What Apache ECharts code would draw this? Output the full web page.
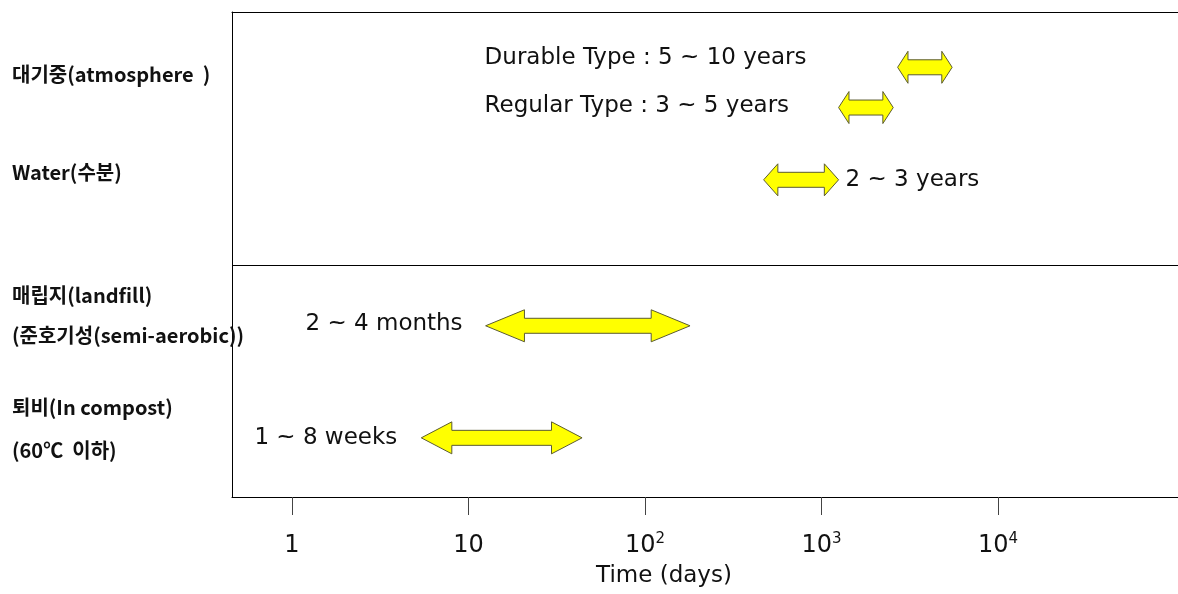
<!DOCTYPE html>
<html>
<head>
<meta charset="utf-8">
<script src="https://cdn.jsdelivr.net/npm/echarts@6/dist/echarts.min.js"></script>
<style>
  html, body { margin: 0; padding: 0; background: #fff; }
  #chart { width: 1178px; height: 594px; }
</style>
</head>
<body>
<div id="chart"></div>
<script>
// degradation time ranges, in days
const stages = ['Durable Type', 'Regular Type', 'Water', 'Landfill', 'Compost'];
const rangeText = ['Durable Type : 5 ~ 10 years', 'Regular Type : 3 ~ 5 years', '2 ~ 3 years', '2 ~ 4 months', '1 ~ 8 weeks'];
const fromDays = [2700, 1250, 470, 12.5, 5.4];
const toDays = [5500, 2550, 1250, 180, 44];

const tickExp = [0, 1, 2, 3, 4];
const tickText = ['1', '10', '10{s|2}', '10{s|3}', '10{s|4}'];

const sideText = ['대기중(atmosphere  )', 'Water(수분)', '매립지(landfill)', '(준호기성(semi-aerobic))', '퇴비(In compost)', '(60℃  이하)'];

// layout (y axis runs 0..100 top to bottom)
const rowY = [11.4, 19.7, 34.6, 64.7, 87.8];
const sideY = [12.8, 33.0, 58.4, 66.6, 81.6, 90.3];
const dividerY = 52.2;
const textPos = [
  { align: 'left', from: 'start', dx: -413, dy: -9 },
  { align: 'left', from: 'start', dx: -354, dy: -2 },
  { align: 'left', from: 'end', dx: 7, dy: 0 },
  { align: 'right', from: 'start', dx: -23, dy: -2 },
  { align: 'right', from: 'start', dx: -24, dy: 0 }
];

const chart = echarts.init(document.getElementById('chart'));

function arrow(params, api) {
  let i = api.value(3);
  let p0 = api.coord([api.value(0), api.value(2)]);
  let p1 = api.coord([api.value(1), api.value(2)]);
  let xs = p0[0], xe = p1[0], y = p0[1];
  let L = Math.min(0.19 * (xe - xs), 40);
  let H = 16, h = 7.5;
  let pts = [
    [xs, y], [xs + L, y - H], [xs + L, y - h], [xe - L, y - h], [xe - L, y - H],
    [xe, y], [xe - L, y + H], [xe - L, y + h], [xs + L, y + h], [xs + L, y + H]
  ];
  let tp = textPos[i];
  let tx = (tp.from === 'start' ? xs : xe) + tp.dx;
  return {
    type: 'group',
    children: [
      {
        type: 'polygon',
        shape: { points: pts },
        style: { fill: '#ffff00', stroke: '#5b5b30', lineWidth: 1 }
      },
      {
        type: 'text',
        style: {
          x: tx, y: y + tp.dy,
          text: rangeText[i],
          align: tp.align,
          verticalAlign: 'middle',
          fill: '#111',
          font: '23px "DejaVu Sans"'
        }
      }
    ]
  };
}

const axisBlack = { show: true, onZero: false, lineStyle: { color: '#000', width: 1 } };

const option = {
  animation: false,
  grid: { left: 232, top: 12, right: 0, bottom: 97 },
  xAxis: [
    {
      type: 'value',
      min: -0.34,
      max: 5.02,
      position: 'bottom',
      axisLine: axisBlack,
      splitLine: { show: false },
      axisTick: {
        customValues: tickExp,
        length: 18,
        lineStyle: { color: '#444', width: 1 }
      },
      axisLabel: {
        customValues: tickExp,
        margin: 35,
        fontFamily: 'DejaVu Sans',
        fontSize: 24,
        lineHeight: 28,
        color: '#111',
        formatter: (v) => tickText[tickExp.indexOf(Math.round(v))],
        rich: {
          s: { fontFamily: 'DejaVu Sans', fontSize: 15, lineHeight: 28, verticalAlign: 'top', color: '#111' }
        }
      },
      name: 'Time (days)',
      nameLocation: 'middle',
      nameGap: 65,
      nameTextStyle: {
        fontFamily: 'DejaVu Sans',
        fontSize: 23,
        color: '#111',
        padding: [0, 82, 0, 0]
      }
    },
    {
      type: 'value',
      min: -0.34,
      max: 5.02,
      position: 'top',
      axisLine: axisBlack,
      axisTick: { show: false },
      axisLabel: { show: false },
      splitLine: { show: false }
    }
  ],
  yAxis: {
    type: 'value',
    min: 0,
    max: 100,
    inverse: true,
    axisLine: axisBlack,
    axisTick: { show: false },
    splitLine: { show: false },
    axisLabel: {
      customValues: sideY,
      margin: 220,
      align: 'left',
      fontFamily: 'Noto Sans CJK KR',
      fontWeight: 'bold',
      fontSize: 20,
      color: '#111',
      formatter: (v) => {
        let best = 0;
        sideY.forEach((s, j) => { if (Math.abs(s - v) < Math.abs(sideY[best] - v)) best = j; });
        return sideText[best];
      }
    }
  },
  series: [
    {
      type: 'custom',
      name: 'degradation',
      clip: false,
      renderItem: arrow,
      encode: { x: [0, 1], y: 2 },
      data: stages.map((s, i) => [Math.log10(fromDays[i]), Math.log10(toDays[i]), rowY[i], i]),
      markLine: {
        silent: true,
        symbol: 'none',
        label: { show: false },
        lineStyle: { color: '#000', width: 1, type: 'solid' },
        data: [{ yAxis: dividerY }]
      }
    }
  ]
};

chart.setOption(option);
</script>
</body>
</html>
